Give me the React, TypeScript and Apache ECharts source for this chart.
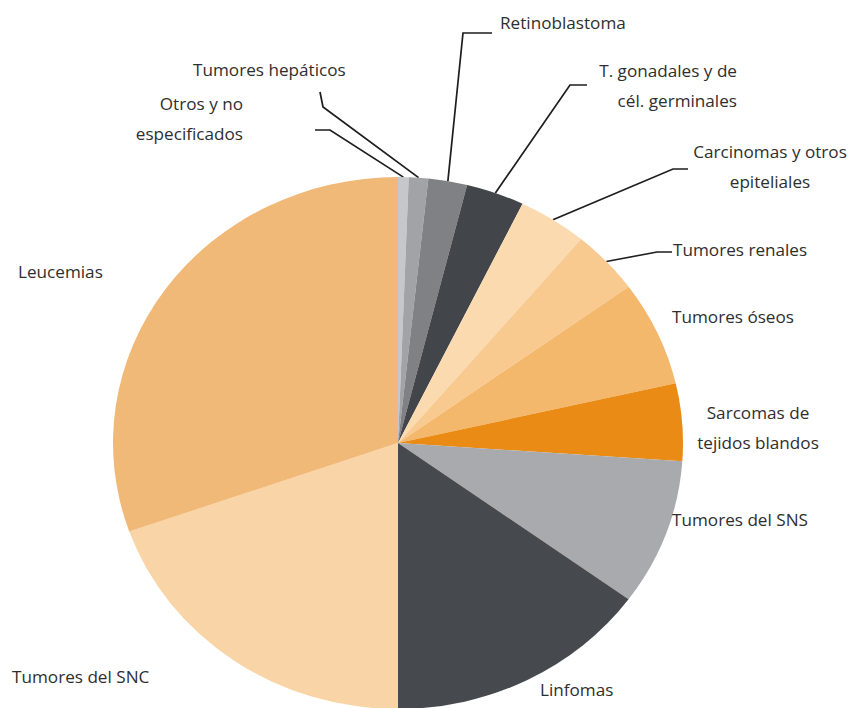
import React, { useEffect, useRef } from "react";
import * as echarts from "echarts";

// Data (share of cases, %), clockwise from 12 o'clock
const categories = [
  "Otros y no especificados",
  "Tumores hepáticos",
  "Retinoblastoma",
  "T. gonadales y de cél. germinales",
  "Carcinomas y otros epiteliales",
  "Tumores renales",
  "Tumores óseos",
  "Sarcomas de tejidos blandos",
  "Tumores del SNS",
  "Linfomas",
  "Tumores del SNC",
  "Leucemias",
];
const labelTexts = [
  "Otros y no\nespecificados",
  "Tumores hepáticos",
  "Retinoblastoma",
  "T. gonadales y de\ncél. germinales",
  "Carcinomas y otros\nepiteliales",
  "Tumores renales",
  "Tumores óseos",
  "Sarcomas de\ntejidos blandos",
  "Tumores del SNS",
  "Linfomas",
  "Tumores del SNC",
  "Leucemias",
];
const values = [0.6, 1.1, 2.2, 3.3, 3.9, 3.9, 6.4, 4.7, 8.9, 15.0, 19.6, 30.4];
const colors = [
  "#c6c7ca",
  "#a2a3a6",
  "#808184",
  "#42454a",
  "#fbdab0",
  "#f8ca90",
  "#f4b86c",
  "#e98b14",
  "#a8aaad",
  "#46494d",
  "#f8d4a6",
  "#f1b977",
];

// Layout (page pixels): label anchor x, y, align; leader line bend + end points
const labelX = [243, 193, 500, 737, 770, 673, 672, 758, 672, 540, 12, 18];
const labelY = [119, 70, 23, 86, 167, 250, 317, 428, 520, 690, 677, 272];
const labelAlign = ["right", "left", "left", "right", "center", "left", "left", "center", "left", "left", "left", "left"];
const lineBend: (number[] | null)[] = [[330, 130], [323, 107], [463, 33], [570, 85], [673, 169], [657, 252], null, null, null, null, null, null];
const lineEnd: (number[] | null)[] = [[315, 130], [320, 92], [492, 33], [587, 85], [688, 169], [672, 252], null, null, null, null, null, null];

const SX = 285 / 266; // horizontal stretch of the original picture
const W = 855;
const H = 708;

export default function App() {
  const ref = useRef<HTMLDivElement>(null);
  useEffect(() => {
    if (!ref.current) return;
    const chart = echarts.init(ref.current, null, { renderer: "svg" });
    const data = categories.map((name, i) => ({
      name,
      value: values[i],
      itemStyle: { color: colors[i] },
      labelLine: { show: lineBend[i] !== null },
    }));
    chart.setOption({
      animation: false,
      backgroundColor: "#ffffff",
      series: [
        {
          type: "pie",
          center: [398 / SX, 443],
          radius: [0, 266],
          startAngle: 90,
          clockwise: true,
          avoidLabelOverlap: false,
          minShowLabelAngle: 0,
          data,
          itemStyle: { borderWidth: 0 },
          label: {
            show: true,
            position: "outside",
            formatter: (p: any) => labelTexts[p.dataIndex],
            fontFamily: "Open Sans",
            fontSize: 16,
            lineHeight: 30,
            color: "#2e2e2e",
          },
          labelLine: {
            lineStyle: { color: "#1e1e1e", width: 1.6 },
            length: 10,
            length2: 10,
          },
          emphasis: { disabled: true },
          labelLayout: (params: any) => {
            const i = params.dataIndex;
            const out: any = {
              x: labelX[i] / SX,
              y: labelY[i],
              align: labelAlign[i],
              verticalAlign: "middle",
              hideOverlap: false,
            };
            const b = lineBend[i];
            const e = lineEnd[i];
            if (b && e && params.labelLinePoints) {
              out.labelLinePoints = [
                params.labelLinePoints[0],
                [b[0] / SX, b[1]],
                [e[0] / SX, e[1]],
              ];
            }
            return out;
          },
        },
      ],
    });
    return () => chart.dispose();
  }, []);
  return (
    <div style={{ position: "fixed", left: 0, top: 0, width: W, height: H, overflow: "hidden", background: "#fff" }}>
      <div
        ref={ref}
        style={{
          position: "absolute",
          left: 0,
          top: 0,
          width: W / SX,
          height: H,
          transform: `scaleX(${SX})`,
          transformOrigin: "0 0",
        }}
      />
    </div>
  );
}
